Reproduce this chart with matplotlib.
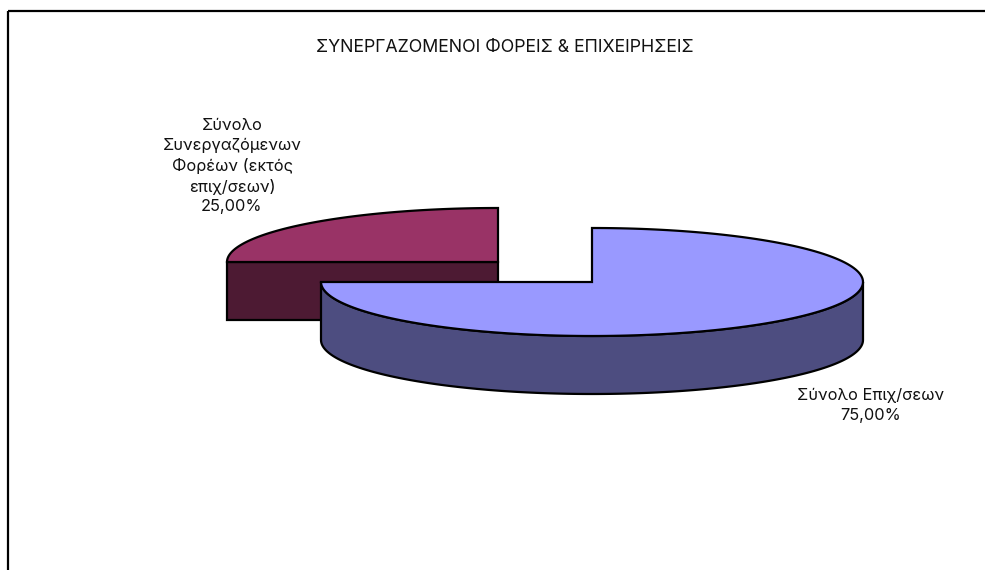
import numpy as np
import matplotlib
matplotlib.use("Agg")
import matplotlib.pyplot as plt
from matplotlib.patches import Polygon

plt.rcParams['font.family'] = ['Inter', 'DejaVu Sans']

title = "ΣΥΝΕΡΓΑΖΟΜΕΝΟΙ ΦΟΡΕΙΣ & ΕΠΙΧΕΙΡΗΣΕΙΣ"
categories = ["Σύνολο Επιχ/σεων", "Σύνολο\nΣυνεργαζόμενων\nΦορέων (εκτός\nεπιχ/σεων)"]
shares = [75.0, 25.0]

top_colors = ["#9999FF", "#993366"]
side_colors = ["#4D4D80", "#4D1A33"]
EDGE = "#000000"
RX, RY, DEPTH = 271, 54, 58
centers = [(592, 282), (498, 262)]
label_pos = [(871, 405.5), (232, 166)]

fig = plt.figure(figsize=(9.85, 5.70), dpi=100)
ax = fig.add_axes([0, 0, 1, 1])
ax.set_xlim(0, 985)
ax.set_ylim(570, 0)
ax.axis("off")

# chart frame: top and left edges only are in view
ax.plot([8, 985], [11, 11], color="black", lw=1.6, solid_capstyle="butt", zorder=1)
ax.plot([8, 8], [11, 570], color="black", lw=1.6, solid_capstyle="butt", zorder=1)


def rim(cx, cy, a0, a1, dy=0):
    t = np.radians(np.linspace(a0, a1, 181))
    return np.column_stack([cx + RX * np.cos(t), cy - RY * np.sin(t) + dy])


def add(points, color, z):
    ax.add_patch(Polygon(points, closed=True, facecolor=color, edgecolor=EDGE,
                         lw=1.6, joinstyle="miter", zorder=z))


# slice angles come from the shares, clockwise from 12 o'clock
angles = 90 - np.cumsum([0] + shares) / sum(shares) * 360

# small slice (drawn first, behind)
cx, cy = centers[1]
a0, a1 = angles[1] + 360, angles[2] + 360          # 180 -> 90
arc = rim(cx, cy, a0, a1)
left = arc[0]
add([left, (cx, cy), (cx, cy + DEPTH), (left[0], left[1] + DEPTH)], side_colors[1], 2)
add(np.vstack([arc, [(cx, cy)]]), top_colors[1], 3)

# large slice
cx, cy = centers[0]
a0, a1 = angles[0], angles[1]                      # 90 -> -180
front = rim(cx, cy, 0, a1)
add(np.vstack([front, rim(cx, cy, a1, 0, DEPTH)]), side_colors[0], 4)
add(np.vstack([rim(cx, cy, a0, a1), [(cx, cy)]]), top_colors[0], 5)

ax.text(505, 48, title, ha="center", va="center", fontsize=12.8, color="#111111")
for name, share, (x, y) in zip(categories, shares, label_pos):
    pct = f"{share:.2f}%".replace(".", ",")
    ax.text(x, y, f"{name}\n{pct}", ha="center", va="center", fontsize=11.8,
            color="#111111", linespacing=1.39, zorder=6)

fig.savefig("out.png", dpi=100)
